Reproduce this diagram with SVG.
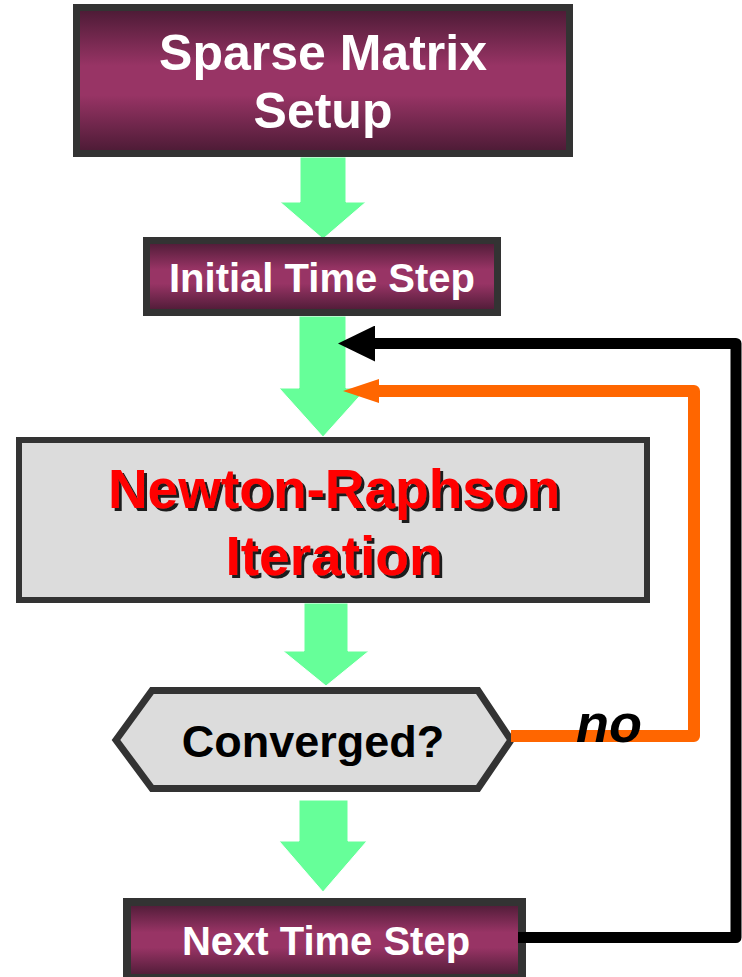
<svg xmlns="http://www.w3.org/2000/svg" width="742" height="977" viewBox="0 0 742 977">
  <defs>
    <linearGradient id="maroon" x1="0" y1="0" x2="0" y2="1">
      <stop offset="0" stop-color="#4a1a34"/>
      <stop offset="0.4" stop-color="#983465"/>
      <stop offset="0.6" stop-color="#983465"/>
      <stop offset="1" stop-color="#4a1a34"/>
    </linearGradient>
    <!-- hard offset shadow for the red title -->
    <filter id="shadow" x="-5%" y="-20%" width="110%" height="140%">
      <feFlood flood-color="#1a1a1a" result="ink"/>
      <feComposite in="ink" in2="SourceAlpha" operator="in" result="shape"/>
      <feOffset in="shape" dx="3" dy="3" result="offset"/>
      <feMerge>
        <feMergeNode in="offset"/>
        <feMergeNode in="SourceGraphic"/>
      </feMerge>
    </filter>
    <marker id="headBlack" viewBox="0 0 37 36" refX="0" refY="18" markerWidth="37" markerHeight="36" markerUnits="userSpaceOnUse" orient="auto">
      <path d="M0,0 L37,18 L0,36 z" fill="#000"/>
    </marker>
    <marker id="headOrange" viewBox="0 0 36 24" refX="0" refY="12" markerWidth="36" markerHeight="24" markerUnits="userSpaceOnUse" orient="auto">
      <path d="M0,0 L36,12 L0,24 z" fill="#ff6600"/>
    </marker>
  </defs>
  <style>
    .box { fill: url(#maroon); stroke: #333; }
    .grey { fill: #dcdcdc; stroke: #333; }
    .flow { fill: #66ff99; stroke: #fff; stroke-width: 1; }
    .lbl { font-family: "Liberation Sans", Arial, sans-serif; font-weight: bold; text-anchor: middle; }
    .white { fill: #fff; }
    .link { fill: none; stroke-linejoin: round; stroke-linecap: butt; }
  </style>

  <!-- block arrows between steps -->
  <g id="flow-arrows">
    <polygon class="flow" points="300,157 346,157 346,202 366,202 323,239 280,202 300,202"/>
    <polygon class="flow" points="299,316 346,316 346,388 367,388 323,437 279,388 299,388"/>
    <polygon class="flow" points="304,603 348,603 348,651 369,651 326,686 283,651 304,651"/>
    <polygon class="flow" points="299,800 348,800 348,841 367,841 323,892 279,841 299,841"/>
  </g>

  <g id="sparse-matrix-setup">
    <rect class="box" x="76.5" y="7.5" width="493" height="146" stroke-width="7"/>
    <text class="lbl white" x="323" y="70" font-size="50">Sparse Matrix</text>
    <text class="lbl white" x="323" y="128" font-size="50">Setup</text>
  </g>

  <g id="initial-time-step">
    <rect class="box" x="146.5" y="240.5" width="351" height="72" stroke-width="7"/>
    <text class="lbl white" x="322" y="292" font-size="40">Initial Time Step</text>
  </g>

  <g id="newton-raphson">
    <rect class="grey" x="19" y="440" width="628" height="160" stroke-width="6"/>
    <g class="lbl" font-size="55" fill="#ff0000" filter="url(#shadow)">
      <text x="334" y="508">Newton-Raphson</text>
      <text x="334" y="575">Iteration</text>
    </g>
  </g>

  <g id="converged">
    <polygon class="grey" points="116,740 152,690.5 478,690.5 511,740 478,788.5 152,788.5" stroke-width="7"/>
    <text class="lbl" x="313" y="757" font-size="45" fill="#000">Converged?</text>
  </g>

  <g id="next-time-step">
    <rect class="box" x="127" y="902" width="395" height="76" stroke-width="8"/>
    <text class="lbl white" x="326" y="955" font-size="40">Next Time Step</text>
  </g>

  <!-- feedback loops -->
  <g id="connectors">
    <path class="link" d="M518,937.5 H736 V343.5 H375" stroke="#000" stroke-width="11" marker-end="url(#headBlack)"/>
    <path class="link" d="M511,736 H694 V391 H379" stroke="#ff6600" stroke-width="12" marker-end="url(#headOrange)"/>
    <text x="609" y="742" font-family="'Liberation Sans', Arial, sans-serif" font-weight="bold" font-style="italic" font-size="54" text-anchor="middle" fill="#000">no</text>
  </g>
</svg>
